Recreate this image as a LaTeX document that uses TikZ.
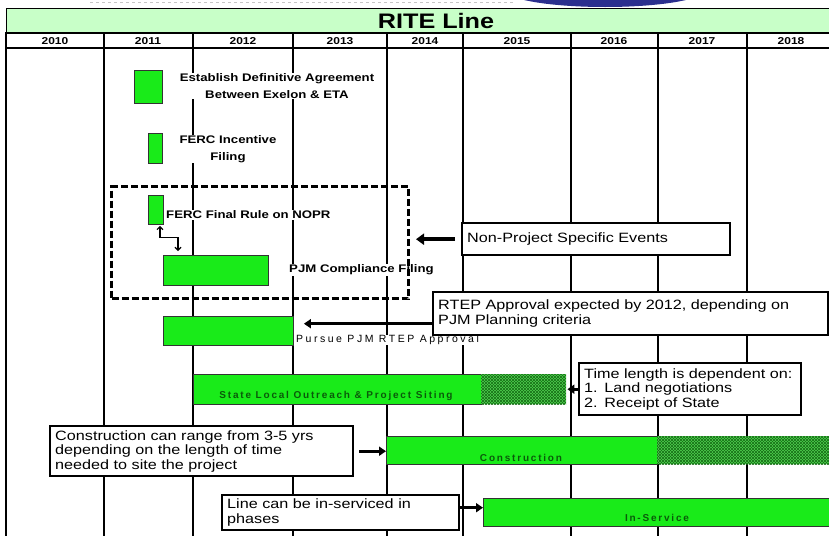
\documentclass[tikz,border=0pt]{standalone}
\usepackage{fontspec}
\setmainfont{Liberation Sans}[FakeStretch=1.2]
\newfontfamily\spacedFont{Liberation Sans}[LetterSpace=18]
\newfontfamily\widerFont{Liberation Sans}[LetterSpace=24]
\usepackage{xcolor}
\usepackage{tikz}
\usetikzlibrary{arrows.meta,calc,positioning,patterns}
\definecolor{titleGreen}{HTML}{C8FFC8}
\definecolor{barGreen}{HTML}{19EB19}
\definecolor{hatchGreen}{HTML}{4FCF4F}
\definecolor{hatchDark}{HTML}{166E16}
\definecolor{labelGreen}{HTML}{0A5A0A}
\definecolor{logoBlue}{HTML}{2B2F8E}

\begin{document}
\begin{tikzpicture}[x=1pt,y=-1pt,>=Latex,
    gridLine/.style={black,line width=1.1pt},
    greenBox/.style={draw=black!80,line width=0.9pt,fill=barGreen,inner sep=0pt,anchor=north west},
    hatchBox/.style={draw=none,fill=hatchGreen,inner sep=0pt,anchor=north west,
      postaction={pattern=north east lines,pattern color=hatchDark},
      postaction={pattern=north west lines,pattern color=hatchDark}},
    noteBox/.style={draw,line width=2.4pt,fill=white,inner xsep=5pt,inner ysep=0pt,anchor=north west,
      align=left,font=\fontsize{13.5}{14.5}\selectfont},
    boldLabel/.style={fill=white,inner sep=1pt,font=\bfseries\fontsize{11}{16.5}\selectfont},
    barLabel/.style={inner sep=0pt,text=labelGreen,font=\spacedFont\bfseries\fontsize{10}{10}\selectfont},
    yearLabel/.style={inner sep=0pt,font=\bfseries\fontsize{10}{10}\selectfont},
    dashFrame/.style={draw,line width=3pt,dash pattern=on 7pt off 3pt,inner sep=0pt,anchor=north west},
    fatArrow/.style={line width=3.5pt,-{Triangle[length=8pt,width=11pt]}},
    midArrow/.style={line width=2.8pt,-{Triangle[length=7pt,width=9pt]}},
    stepLink/.style={line width=1.1pt,{Straight Barb[length=3pt,width=6pt]}-{Straight Barb[length=3pt,width=6pt]}}]
  \useasboundingbox (0,0) rectangle (829,536);
  \clip (0,0) rectangle (829,536);
  \fill[logoBlue] (605,-10) ellipse (100 and 17);
  \draw[gray!45,dashed,line width=0.8pt] (90,2) -- (515,2);
  \node[draw,line width=1.1pt,fill=titleGreen,anchor=north west,minimum width=830pt,minimum height=25pt,
    inner sep=0pt] (titleBand) at (6,8) {};
  \node[font=\bfseries\fontsize{21}{21}\selectfont] (title) at (436,21) {RITE Line};
  \draw[gridLine] (6,33) rectangle (840,48);
  \draw[gridLine] (6,48) -- (6,536);
  \foreach \gx in {104,193,293,387,463,571,658,747}
    \draw[gridLine] (\gx,33) -- (\gx,536);
  \foreach \yr/\cx in {2010/55,2011/148,2012/243,2013/340,2014/425,2015/517,2016/614,2017/702,2018/791}
    \node[yearLabel] (yr\yr) at (\cx,41) {\yr};

  \node[greenBox,minimum width=28pt,minimum height=33pt] (agreeBox) at (134,70) {};
  \node[boldLabel,align=center] (agreeText) at (277,86) {Establish Definitive Agreement\\Between Exelon \& ETA};
  \node[greenBox,minimum width=14pt,minimum height=30pt] (incentBox) at (148,133) {};
  \node[boldLabel,align=center] (incentText) at (228,149) {FERC Incentive\\Filing};
  \node[greenBox,minimum width=15pt,minimum height=29pt] (finalBox) at (148,195) {};
  \node[boldLabel,anchor=west] (finalText) at (165,215) {FERC Final Rule on NOPR};
  \node[greenBox,minimum width=105pt,minimum height=30pt] (complBox) at (163,255) {};
  \node[boldLabel,anchor=west] (complText) at (288,270) {PJM Compliance Filing};
  \draw[stepLink,shorten <=1pt,shorten >=4pt] ([xshift=4pt]finalBox.south) -- ++(0,13)
    -| ([xshift=15pt]complBox.north west);
  \node[dashFrame,minimum width=297pt,minimum height=112pt] (nonProjFrame) at (110,185) {};

  \node[noteBox,text width=258pt,minimum height=32pt] (nonProj) at (461,222) {Non-Project Specific Events};
  \draw[fatArrow,shorten <=6pt,shorten >=6pt] (nonProj.west) -- (nonProj.west -| nonProjFrame.east);

  \node[greenBox,minimum width=130pt,minimum height=29pt] (pursueBox) at (163,316) {};
  \node[inner sep=0pt,fill=white,font=\widerFont\fontsize{10.5}{10.5}\selectfont,anchor=west]
    (pursueText) at (296,340) {Pursue PJM RTEP Approval};
  \node[noteBox,text width=385pt,minimum height=43pt] (rtepNote) at (432,291)
    {RTEP Approval expected by 2012, depending on\\PJM Planning criteria};
  \draw[midArrow,shorten >=10pt] ([yshift=-10pt]rtepNote.west) -- ([yshift=-10pt]rtepNote.west -| pursueBox.east);

  \node[greenBox,minimum width=288pt,minimum height=30pt] (sitingBar) at (193,374) {};
  \node[hatchBox,minimum width=85pt,minimum height=30pt] (sitingHatch) at (481,374) {};
  \node[barLabel] (sitingText) at (336,396) {State Local Outreach \& Project Siting};
  \node[noteBox,text width=212pt,minimum height=52pt] (timeNote) at (578,362)
    {Time length is dependent on:\\1.\enspace Land negotiations\\2.\enspace Receipt of State};
  \draw[midArrow,shorten >=1pt] (timeNote.west) -- (timeNote.west -| sitingHatch.east);

  \node[noteBox,text width=293pt,minimum height=50pt] (constrNote) at (49,425)
    {Construction can range from 3-5 yrs\\depending on the length of time\\needed to site the project};
  \node[greenBox,minimum width=271pt,minimum height=28pt] (constrBar) at (386,436) {};
  \node[hatchBox,minimum width=180pt,minimum height=28pt] (constrHatch) at (657,436) {};
  \node[barLabel] (constrText) at (521,458) {Construction};
  \draw[midArrow,shorten <=5pt] (constrNote.east) -- (constrNote.east -| constrBar.west);

  \node[noteBox,text width=227pt,minimum height=35pt] (servNote) at (221,494)
    {Line can be in-serviced in\\phases};
  \node[greenBox,minimum width=360pt,minimum height=28pt] (servBar) at (483,498) {};
  \node[barLabel] (servText) at (657,518) {In-Service};
  \draw[midArrow] ([yshift=5pt]servNote.east) -- ([yshift=5pt]servNote.east -| servBar.west);
\end{tikzpicture}
\end{document}
